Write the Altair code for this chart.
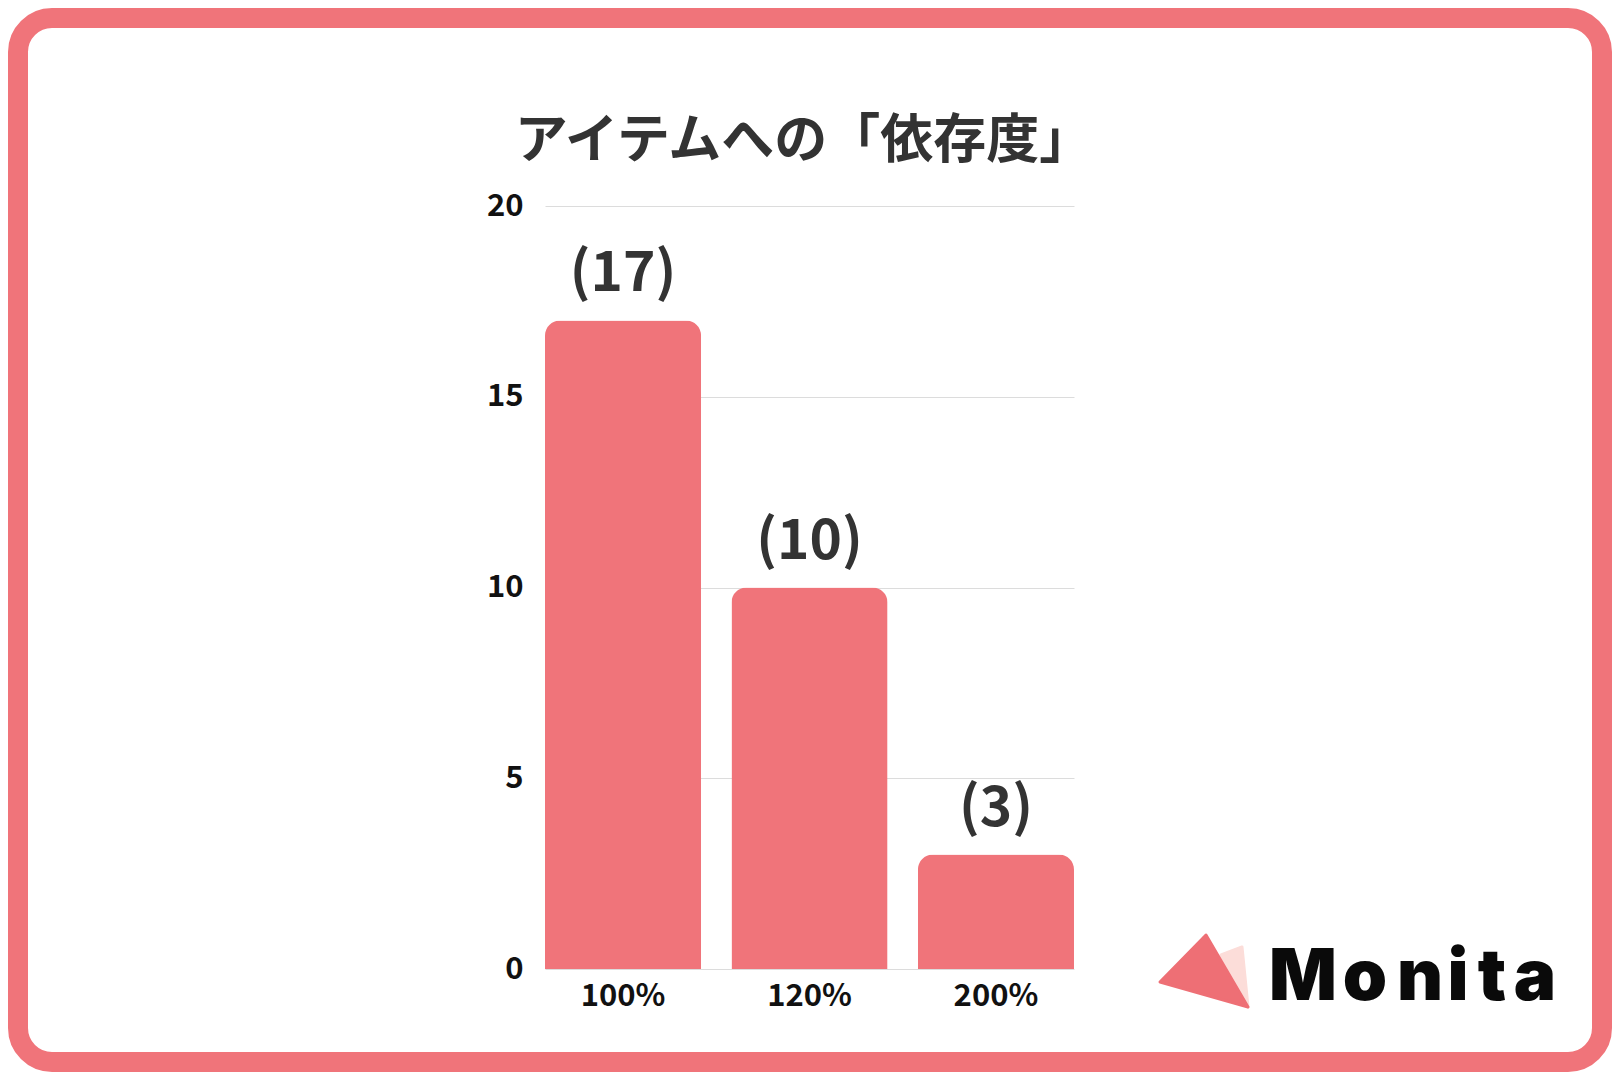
import altair as alt
import pandas as pd

# ---- data ----
categories = ["100%", "120%", "200%"]
values = [17, 10, 3]
value_labels = ["(17)", "(10)", "(3)"]
y_ticks = [0, 5, 10, 15, 20]
title_text = "アイテムへの「依存度」"
logo_letters = ["M", "o", "n", "i", "t", "a"]

# ---- layout / style ----
PINK = "#F0747A"
FONT = "Noto Sans CJK JP"
W, H = 529, 763
PL, PT, PR, PB = 537, 198, 538, 103
logo_x = [758, 820, 875, 913, 947, 990]   # letter centres (plot coords)
logo_baseline = 794

df = pd.DataFrame({"cat": categories, "val": values, "label": value_labels})
one = pd.DataFrame({"k": [0]})

frame = alt.Chart(one).mark_rect(
    fill="white", fillOpacity=0, stroke=PINK, strokeWidth=20, cornerRadius=34
).encode(
    x=alt.value(-PL + 10), x2=alt.value(W + PR - 10),
    y=alt.value(-PT + 10), y2=alt.value(H + PB - 10),
)

x_enc = alt.X(
    "cat:N", sort=categories,
    scale=alt.Scale(paddingInner=0.163, paddingOuter=0),
    axis=alt.Axis(title=None, labelAngle=0, labelFont=FONT, labelFontSize=31,
                  labelFontWeight="bold", labelColor="#111111", labelPadding=12,
                  domain=False, ticks=False, grid=False),
)
y_enc = alt.Y(
    "val:Q", scale=alt.Scale(domain=[0, 20], nice=False),
    axis=alt.Axis(title=None, values=y_ticks, labelFont=FONT, labelFontSize=31,
                  labelFontWeight="bold", labelColor="#111111", labelPadding=22,
                  domain=False, ticks=False, grid=True, gridColor="#dcdcdc",
                  gridWidth=1),
)

bars = alt.Chart(df).mark_bar(
    color=PINK, cornerRadiusTopLeft=15, cornerRadiusTopRight=15
).encode(x=x_enc, y=y_enc)

texts = alt.Chart(df).mark_text(
    dy=-29, baseline="alphabetic", fontSize=55, fontWeight="bold", font=FONT,
    color="#333333"
).encode(x=alt.X("cat:N", sort=categories), y="val:Q", text="label:N")

title = alt.Chart(one).mark_text(
    text=title_text, fontSize=53, fontWeight="bold", font=FONT, color="#333333",
    baseline="middle", align="center"
).encode(x=alt.value(W / 2 - 6), y=alt.value(-64))

tri_main = alt.Chart(one).mark_point(
    shape="M0,0 L-46,47 L42,72 Z", filled=True, fill="#EE6F75", stroke="#EE6F75",
    strokeWidth=3, strokeJoin="round", size=4, opacity=1
).encode(x=alt.value(661), y=alt.value(729))
tri_light = alt.Chart(one).mark_point(
    shape="M36,12 L15,20 L42,72 Z", filled=True, fill="#FCDDD9", stroke="#FCDDD9",
    strokeWidth=3, strokeJoin="round", size=4, opacity=1
).encode(x=alt.value(661), y=alt.value(729))

letters = []
for ch, lx in zip(logo_letters, logo_x):
    letters.append(
        alt.Chart(one).mark_text(
            text=ch, fontSize=71, fontWeight=900, font="Inter", color="#0a0a0a",
            baseline="alphabetic", align="center"
        ).encode(x=alt.value(lx), y=alt.value(logo_baseline))
    )

chart = alt.layer(frame, bars, texts, title, tri_light, tri_main, *letters).properties(
    width=W, height=H,
    padding={"left": PL, "top": PT, "right": PR, "bottom": PB},
    autosize="none", background="white",
).configure_view(stroke=None)

chart.save("out.html", embed_options={"renderer": "svg", "actions": False})
